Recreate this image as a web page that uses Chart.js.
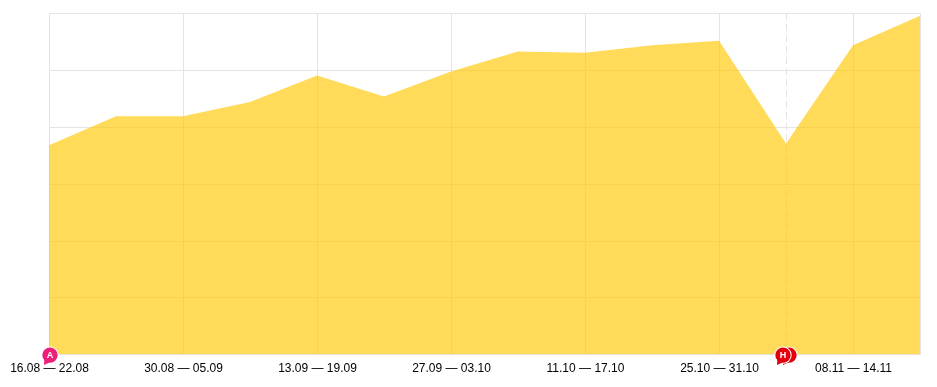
<!DOCTYPE html>
<html>
<head>
<meta charset="utf-8">
<style>
  html, body { margin: 0; padding: 0; background: #fff; }
  #chartBox { width: 937px; height: 387px; }
</style>
<script src="https://cdn.jsdelivr.net/npm/chart.js@4"></script>
</head>
<body>
<div id="chartBox"><canvas id="weeksChart"></canvas></div>
<script>
const weekLabels = ['16.08 — 22.08', '23.08 — 29.08', '30.08 — 05.09', '06.09 — 12.09', '13.09 — 19.09', '20.09 — 26.09', '27.09 — 03.10',
  '04.10 — 10.10', '11.10 — 17.10', '18.10 — 24.10', '25.10 — 31.10', '01.11 — 07.11', '08.11 — 14.11', '15.11 — 21.11'];
const weekValues = [369, 420, 420, 445, 492, 455, 499, 534, 532, 545, 553, 372, 545, 597];
const yTicks = [0, 100, 200, 300, 400, 500, 602];

const flagLetters = ['A', '', 'H'];
const flagWeeks = [0, 11, 11];
const flagColors = ['#ed2079', '#e2000f', '#e2000f'];
const flagShift = [1, 3, -3];

const gridColor = '#e4e4e4';
const dashedWeek = 11;

function drawFlag(c, x, y, letter, color) {
  // white halo, then the round bubble with its little tail at lower left
  c.save();
  c.beginPath();
  c.arc(x, y, 8.7, 0, Math.PI * 2);
  c.fillStyle = '#fff';
  c.fill();
  c.fillStyle = color;
  c.beginPath();
  c.arc(x, y, 7.7, 0, Math.PI * 2);
  c.fill();
  c.beginPath();
  c.moveTo(x - 5.5, y + 3);
  c.lineTo(x - 6, y + 10);
  c.lineTo(x + 0.5, y + 7);
  c.closePath();
  c.fill();
  if (letter) {
    c.fillStyle = '#fff';
    c.font = 'bold 9px "Liberation Sans", Arial, sans-serif';
    c.textAlign = 'center';
    c.textBaseline = 'middle';
    c.fillText(letter, x, y + 0.5);
  }
  c.restore();
}

const flagsPlugin = {
  id: 'flags',
  afterDraw(chart) {
    const xScale = chart.scales.x;
    const yScale = chart.scales.y;
    const order = [1, 2, 0];
    order.forEach((i) => {
      const x = xScale.getPixelForValue(flagWeeks[i]) + flagShift[i];
      drawFlag(chart.ctx, x, yScale.getPixelForValue(0) + 0.5, flagLetters[i], flagColors[i]);
    });
  },
};

new Chart(document.getElementById('weeksChart'), {
  type: 'line',
  data: {
    labels: weekLabels,
    datasets: [{
      data: weekValues,
      fill: 'origin',
      backgroundColor: 'rgba(255, 200, 0, 0.65)',
      borderWidth: 0,
      pointRadius: 0,
      tension: 0,
    }],
  },
  plugins: [flagsPlugin],
  options: {
    responsive: true,
    maintainAspectRatio: false,
    animation: false,
    layout: { padding: { left: 49, right: 17, top: 13, bottom: 4 } },
    plugins: { legend: { display: false }, tooltip: { enabled: false } },
    scales: {
      x: {
        ticks: {
          autoSkip: false,
          maxRotation: 0,
          padding: 7,
          labelOffset: 0.5,
          color: '#000',
          font: { family: '"Liberation Sans", Arial, sans-serif', size: 12 },
          callback(value, index) {
            return index % 2 === 0 ? weekLabels[index] : '';
          },
        },
        grid: {
          drawTicks: false,
          color: (ctx) => (ctx.index % 2 === 0 || ctx.index === dashedWeek || ctx.index === weekLabels.length - 1 ? gridColor : 'transparent'),
        },
        border: {
          color: gridColor,
          dash: (ctx) => (ctx.index === dashedWeek ? [7, 4] : []),
        },
      },
      y: {
        min: yTicks[0],
        max: yTicks[yTicks.length - 1],
        afterBuildTicks(axis) {
          axis.ticks = yTicks.map((value) => ({ value }));
        },
        ticks: { display: false },
        grid: { drawTicks: false, color: gridColor },
        border: { color: gridColor },
      },
    },
  },
});
</script>
</body>
</html>
